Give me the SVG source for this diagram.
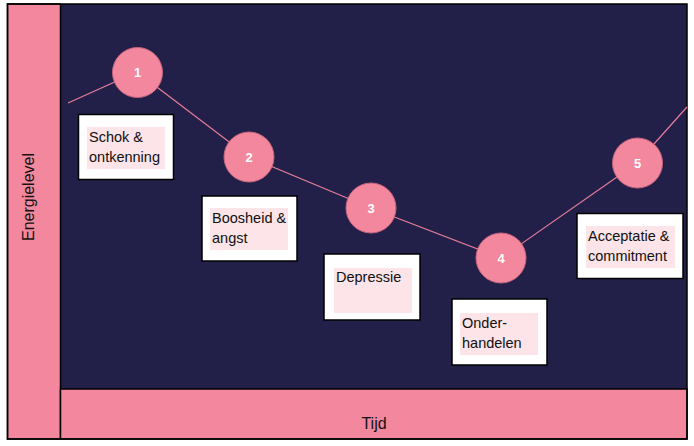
<svg xmlns="http://www.w3.org/2000/svg" width="694" height="446" viewBox="0 0 694 446">
<style>
.band{fill:#F2879D;stroke:#000;stroke-width:1.5}
.node circle{fill:#F2879D;stroke:#C8647E;stroke-width:1}
.num{font-family:"Liberation Sans",Arial,sans-serif;font-size:13px;font-weight:bold;fill:#fff;text-anchor:middle}
.box{fill:#fff;stroke:#000;stroke-width:1.5}
.hl{fill:#FCE4E8}
.lbl{font-family:"Liberation Sans",Arial,sans-serif;font-size:14.5px;fill:#111}
.axis{font-family:"Liberation Sans",Arial,sans-serif;font-size:16px;fill:#111;text-anchor:middle}
.conn{fill:none;stroke:#E57C9A;stroke-width:1.2}
</style>
<rect x="0" y="0" width="694" height="446" fill="#fff"/>
<g id="panel">
<rect x="61" y="4" width="626" height="385" fill="#222048"/>
<rect class="band" x="7.5" y="4" width="53" height="435"/>
<rect class="band" x="60.5" y="389" width="626.5" height="50"/>
<rect x="7.5" y="4" width="679.5" height="435" fill="none" stroke="#000" stroke-width="1.5"/>
<text class="axis" transform="translate(34,197) rotate(-90)">Energielevel</text>
<text class="axis" x="374" y="429">Tijd</text>
</g>
<g id="connectors">
<polyline class="conn" points="68,103 137,72 249,157 371,208 501,258 637,163 687,107"/>
</g>
<g id="node1" class="node"><circle cx="137.5" cy="72.5" r="25"/><text class="num" x="137.5" y="77">1</text></g>
<g id="node2" class="node"><circle cx="249" cy="157" r="25"/><text class="num" x="249" y="162">2</text></g>
<g id="node3" class="node"><circle cx="371" cy="208" r="25"/><text class="num" x="371" y="213">3</text></g>
<g id="node4" class="node"><circle cx="501" cy="258" r="25"/><text class="num" x="501" y="263">4</text></g>
<g id="node5" class="node"><circle cx="637.5" cy="163" r="25"/><text class="num" x="637.5" y="168">5</text></g>
<g id="label1"><rect class="box" x="78.5" y="114.5" width="95" height="65"/><rect class="hl" x="87" y="127" width="78" height="42"/><text class="lbl" x="89" y="142">Schok &amp;</text><text class="lbl" x="89" y="162">ontkenning</text></g>
<g id="label2"><rect class="box" x="202" y="196" width="95" height="65"/><rect class="hl" x="210" y="208" width="78" height="42"/><text class="lbl" x="212" y="223">Boosheid &amp;</text><text class="lbl" x="212" y="243">angst</text></g>
<g id="label3"><rect class="box" x="324" y="254" width="96" height="66"/><rect class="hl" x="334" y="268" width="78" height="45"/><text class="lbl" x="336" y="282">Depressie</text></g>
<g id="label4"><rect class="box" x="452" y="299" width="95" height="66"/><rect class="hl" x="460" y="313" width="78" height="42"/><text class="lbl" x="462" y="328">Onder-</text><text class="lbl" x="462" y="348">handelen</text></g>
<g id="label5"><rect class="box" x="577" y="213.5" width="106" height="65"/><rect class="hl" x="586" y="226" width="89" height="42"/><text class="lbl" x="588" y="241">Acceptatie &amp;</text><text class="lbl" x="588" y="261">commitment</text></g>
</svg>
